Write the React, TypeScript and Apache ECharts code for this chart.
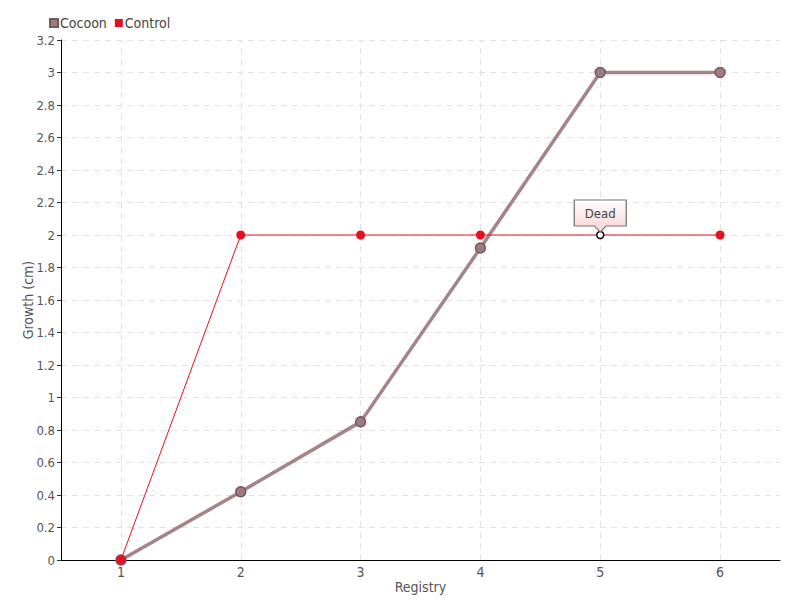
import React, { useEffect, useRef } from "react";
import * as echarts from "echarts";

const registry = ["1", "2", "3", "4", "5", "6"];
const cocoon = [0, 0.42, 0.85, 1.92, 3, 3];
const control = [0, 2, 2, 2, 2, 2];
const deadIndex = 4;
const yTicks = { min: 0, max: 3.2, interval: 0.2 };

const FONT = "'DejaVu Sans Condensed', 'Liberation Sans Narrow', 'Roboto', sans-serif";

export default function App() {
  const ref = useRef<HTMLDivElement>(null);
  useEffect(() => {
    const chart = echarts.init(ref.current!, null, { renderer: "svg" });
    const controlData = control.map((v, i) =>
      i === deadIndex
        ? {
            value: v,
            symbolSize: 7,
            itemStyle: { color: "#ffffff", borderColor: "#000000", borderWidth: 1.5 },
          }
        : v
    );
    chart.setOption({
      animation: false,
      textStyle: { fontFamily: FONT },
      legend: {
        left: 44,
        top: 11,
        itemWidth: 8,
        itemHeight: 8,
        itemGap: 8,
        icon: "rect",
        textStyle: { fontFamily: FONT, fontSize: 14, color: "#444", padding: [0, 0, 0, -3] },
        data: ["Cocoon", "Control"],
      },
      grid: { left: 61, right: 20, top: 40, bottom: 40, containLabel: false },
      xAxis: {
        type: "category",
        data: registry,
        name: "Registry",
        nameLocation: "middle",
        nameGap: 20,
        nameMoveOverlap: false,
        nameTextStyle: { fontFamily: FONT, fontSize: 14, color: "#555" },
        axisLine: { lineStyle: { color: "#000", width: 1 } },
        axisTick: { alignWithLabel: true, length: 4, lineStyle: { color: "#000" } },
        axisLabel: { fontFamily: FONT, fontSize: 14, color: "#555", margin: 5 },
        splitLine: { show: false },
      },
      yAxis: {
        type: "value",
        min: yTicks.min,
        max: yTicks.max,
        interval: yTicks.interval,
        name: "Growth (cm)",
        nameLocation: "middle",
        nameGap: 26,
        nameMoveOverlap: false,
        nameTextStyle: { fontFamily: FONT, fontSize: 14, color: "#555" },
        axisLine: { show: true, lineStyle: { color: "#000", width: 1 } },
        axisTick: { show: true, length: 4, lineStyle: { color: "#333" } },
        axisLabel: {
          fontFamily: FONT,
          fontSize: 13,
          color: "#555",
          margin: 6,
          formatter: (v: number) => String(Math.round(v * 10) / 10),
        },
        splitLine: { show: true, lineStyle: { color: "#e2e2e2", type: [6, 5] } },
      },
      series: [
        {
          name: "grid",
          type: "line",
          data: [],
          z: 0,
          silent: true,
          markLine: {
            z: 0,
            silent: true,
            symbol: "none",
            label: { show: false },
            lineStyle: { color: "#e2e2e2", type: [6, 5], width: 1 },
            emphasis: { disabled: true },
            data: registry.map((r) => ({ xAxis: r })),
          },
        },
        {
          name: "Cocoon",
          type: "line",
          data: cocoon,
          symbol: "circle",
          symbolSize: 10,
          lineStyle: { color: "#a48488", width: 3.5 },
          itemStyle: { color: "#9c7c80", borderColor: "#76585c", borderWidth: 1.5 },
          z: 2,
        },
        {
          name: "Control",
          type: "line",
          data: controlData,
          symbol: "circle",
          symbolSize: 9,
          lineStyle: { color: "#e8101f", width: 1 },
          itemStyle: { color: "#e8101f" },
          z: 3,
          markPoint: {
            z: 6,
            symbol: "path://M0,0 L52,0 L52,26 L32,26 L26,32 L20,26 L0,26 Z",
            symbolSize: [52, 32],
            symbolOffset: [0, -19],
            symbolKeepAspect: false,
            itemStyle: {
              color: new echarts.graphic.LinearGradient(0, 0, 0, 1, [
                { offset: 0, color: "#ffffff" },
                { offset: 1, color: "#fcd2d2" },
              ]),
              borderColor: "#777",
              borderWidth: 1,
            },
            label: {
              show: true,
              formatter: "Dead",
              fontFamily: FONT,
              fontSize: 13,
              color: "#444",
              offset: [0, -3],
            },
            data: [{ coord: [registry[deadIndex], control[deadIndex]], value: "Dead" }],
          },
        },
      ],
    });
    return () => chart.dispose();
  }, []);
  return <div ref={ref} style={{ width: 800, height: 600, position: "absolute", left: 0, top: 0 }} />;
}
